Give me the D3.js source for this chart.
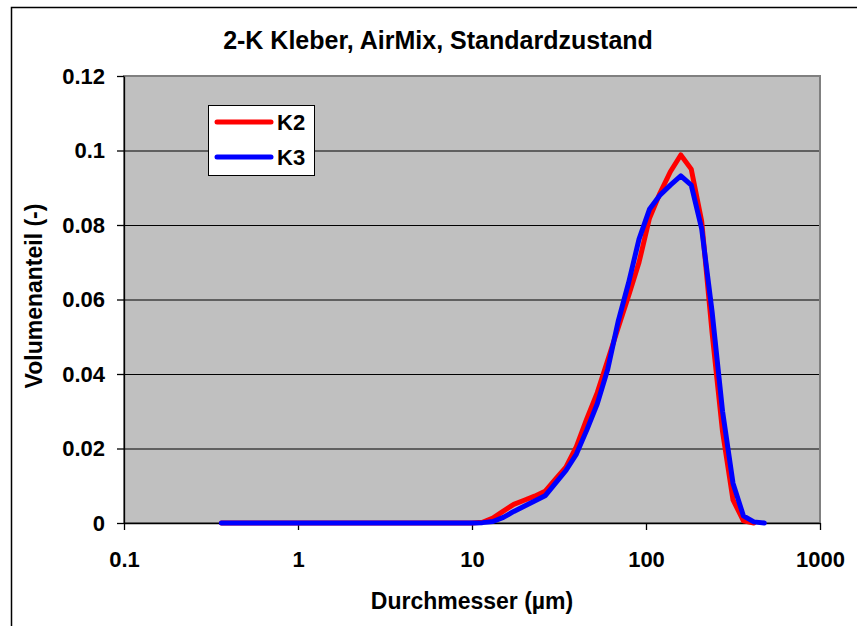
<!DOCTYPE html>
<html>
<head>
<meta charset="utf-8">
<script src="https://cdn.jsdelivr.net/npm/d3@7"></script>
<style>
  body { margin: 0; background: #fff; }
  text { font-family: Arial, "Liberation Sans", sans-serif; font-weight: bold; fill: #000; }
</style>
</head>
<body>
<div id="chart"></div>
<script>
// particle size classes (µm)
var sizes = [0.363, 0.417, 0.479, 0.550, 0.631, 0.724, 0.832, 0.955, 1.096, 1.259,
  1.445, 1.660, 1.905, 2.188, 2.512, 2.884, 3.311, 3.802, 4.365, 5.012,
  5.754, 6.607, 7.586, 8.710, 10.0, 11.48, 13.18, 15.14, 17.38, 19.95,
  22.91, 26.30, 30.20, 34.67, 39.81, 45.71, 52.48, 60.26, 69.18, 79.43,
  91.20, 104.7, 120.2, 138.0, 158.5, 182.0, 208.9, 239.9, 275.4, 316.2,
  363.1, 416.9, 478.6];

var k2 = [0, 0, 0, 0, 0, 0, 0, 0, 0, 0,
  0, 0, 0, 0, 0, 0, 0, 0, 0, 0,
  0, 0, 0, 0, 0, 0.0002, 0.0013, 0.0032, 0.0050, 0.0061,
  0.0072, 0.0085, 0.0118, 0.0150, 0.0205, 0.0280, 0.0350, 0.0437, 0.0524, 0.0610,
  0.0700, 0.0818, 0.0885, 0.0943, 0.0988, 0.0950, 0.0810, 0.0510, 0.0245, 0.0062,
  0.0006, 0];

var k3 = [0, 0, 0, 0, 0, 0, 0, 0, 0, 0,
  0, 0, 0, 0, 0, 0, 0, 0, 0, 0,
  0, 0, 0, 0, 0, 0.0001, 0.0004, 0.0015, 0.0031, 0.0045,
  0.0059, 0.0073, 0.0107, 0.0141, 0.0185, 0.0250, 0.0320, 0.0413, 0.0541, 0.0645,
  0.0762, 0.0842, 0.0880, 0.0907, 0.0932, 0.0907, 0.0790, 0.0566, 0.0300, 0.0107,
  0.0019, 0.0003, 0];

var seriesNames = ["K2", "K3"];
var seriesColors = ["#ff0000", "#0000ff"];

var xTicks = [0.1, 1, 10, 100, 1000];
var xTickLabels = ["0.1", "1", "10", "100", "1000"];
var yTicks = [0, 0.02, 0.04, 0.06, 0.08, 0.1, 0.12];
var yTickLabels = ["0", "0.02", "0.04", "0.06", "0.08", "0.1", "0.12"];

var svgWidth = 857;
var svgHeight = 626;

var margin = { top: 76, right: 37, bottom: 103, left: 124 };
var width = svgWidth - margin.left - margin.right;
var height = svgHeight - margin.top - margin.bottom;

var svg = d3.select("#chart")
  .append("svg")
  .attr("width", svgWidth)
  .attr("height", svgHeight);

// outer chart frame (runs off the right and bottom edge)
svg.append("rect")
  .attr("x", 11.5)
  .attr("y", 7.5)
  .attr("width", 900)
  .attr("height", 700)
  .attr("fill", "none")
  .attr("stroke", "#000")
  .attr("stroke-width", 1.5);

svg.append("text")
  .attr("x", 438)
  .attr("y", 49)
  .attr("text-anchor", "middle")
  .style("font-size", "25px")
  .text("2-K Kleber, AirMix, Standardzustand");

var plot = svg.append("g")
  .attr("transform", `translate(${margin.left}, ${margin.top})`);

var x = d3.scaleLog()
  .domain([0.1, 1000])
  .range([0, width]);

var y = d3.scaleLinear()
  .domain([0, 0.12])
  .range([height, 0]);

plot.append("rect")
  .attr("width", width)
  .attr("height", height)
  .attr("fill", "#c0c0c0");

// horizontal gridlines
var grid = plot.append("g")
  .call(d3.axisLeft(y).tickValues(yTicks).tickSize(-width).tickFormat(""));
grid.select(".domain").remove();
grid.selectAll("line").attr("stroke", "#000").attr("stroke-width", 1);

// grey plot border
plot.append("rect")
  .attr("width", width)
  .attr("height", height)
  .attr("fill", "none")
  .attr("stroke", "#808080")
  .attr("stroke-width", 2);

var yAxis = plot.append("g")
  .call(d3.axisLeft(y)
    .tickValues(yTicks)
    .tickSize(7)
    .tickSizeOuter(0)
    .tickPadding(12)
    .tickFormat((d, i) => yTickLabels[i]));

var xAxis = plot.append("g")
  .attr("transform", `translate(0, ${height})`)
  .call(d3.axisBottom(x)
    .tickValues(xTicks)
    .tickSize(7)
    .tickSizeOuter(0)
    .tickPadding(21)
    .tickFormat((d, i) => xTickLabels[i]));

[xAxis, yAxis].forEach(function(ax) {
  ax.selectAll("path, line").attr("stroke", "#000").attr("stroke-width", 1.3);
  ax.selectAll("text")
    .style("font-family", "Arial, 'Liberation Sans', sans-serif")
    .style("font-weight", "bold")
    .style("font-size", "22px");
});

// the two curves
var line = d3.line()
  .x(d => x(d.size))
  .y(d => y(d.value));

var series = [k2, k3].map(function(vals) {
  return vals.map((v, i) => ({ size: sizes[i], value: v }));
});

series.forEach(function(data, i) {
  plot.append("path")
    .datum(data)
    .attr("fill", "none")
    .attr("stroke", seriesColors[i])
    .attr("stroke-width", 5)
    .attr("stroke-linejoin", "round")
    .attr("stroke-linecap", "round")
    .attr("d", line);
});

// legend
var legend = svg.append("g");
legend.append("rect")
  .attr("x", 208.5)
  .attr("y", 105.5)
  .attr("width", 106)
  .attr("height", 70)
  .attr("fill", "#fff")
  .attr("stroke", "#000")
  .attr("stroke-width", 1);

seriesNames.forEach(function(name, i) {
  var ly = 122 + i * 35;
  legend.append("line")
    .attr("x1", 217)
    .attr("x2", 271)
    .attr("y1", ly)
    .attr("y2", ly)
    .attr("stroke", seriesColors[i])
    .attr("stroke-width", 5)
    .attr("stroke-linecap", "round");
  legend.append("text")
    .attr("x", 277)
    .attr("y", ly + 8)
    .style("font-size", "22px")
    .text(name);
});

// axis titles
svg.append("text")
  .attr("x", 472)
  .attr("y", 609)
  .attr("text-anchor", "middle")
  .style("font-size", "23px")
  .text("Durchmesser (µm)");

svg.append("text")
  .attr("transform", "translate(42, 296) rotate(-90)")
  .attr("text-anchor", "middle")
  .style("font-size", "23px")
  .text("Volumenanteil (-)");
</script>
</body>
</html>
